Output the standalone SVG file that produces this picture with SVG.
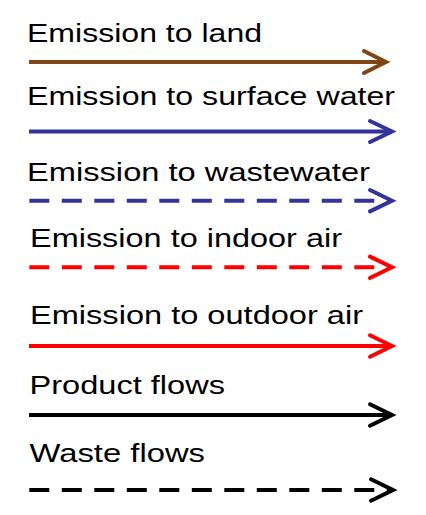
<svg xmlns="http://www.w3.org/2000/svg" width="426" height="515" viewBox="0 0 426 515">
<style>
text{font-family:"Liberation Sans",Arial,sans-serif;font-size:25px;fill:#000}
.ln{fill:none;stroke-width:4;stroke-linecap:butt}
.hd{fill:none;stroke-width:4;stroke-linecap:round;stroke-linejoin:miter}
.dash{stroke-dasharray:20 12.5}
</style>
<rect width="426" height="515" fill="#fff"/>
<g id="legend-land">
<text transform="matrix(1.3 0 0 1 27 42)" textLength="180.8" lengthAdjust="spacingAndGlyphs">Emission to land</text>
</g>
<g id="legend-surface">
<text transform="matrix(1.3 0 0 1 27 105)" textLength="283.1" lengthAdjust="spacingAndGlyphs">Emission to surface water</text>
</g>
<g id="legend-wastewater">
<text transform="matrix(1.3 0 0 1 27 180.5)" textLength="263.8" lengthAdjust="spacingAndGlyphs">Emission to wastewater</text>
</g>
<g id="legend-indoor">
<text transform="matrix(1.3 0 0 1 30 246.5)" textLength="240" lengthAdjust="spacingAndGlyphs">Emission to indoor air</text>
</g>
<g id="legend-outdoor">
<text transform="matrix(1.3 0 0 1 30 323.5)" textLength="256.2" lengthAdjust="spacingAndGlyphs">Emission to outdoor air</text>
</g>
<g id="legend-product">
<text transform="matrix(1.3 0 0 1 29.5 394.3)" textLength="150.4" lengthAdjust="spacingAndGlyphs">Product flows</text>
</g>
<g id="legend-waste">
<text transform="matrix(1.3 0 0 1 29.5 462.3)" textLength="135" lengthAdjust="spacingAndGlyphs">Waste flows</text>
</g>
<g id="connectors">
<g stroke="#7F4513">
<line class="ln" x1="29" y1="62" x2="384" y2="62"/>
<polyline class="hd" points="364,51 386,62 364,73"/>
</g>
<g stroke="#333399">
<line class="ln" x1="29" y1="131.5" x2="390" y2="131.5"/>
<polyline class="hd" points="370,121 392,131.5 370,142"/>
</g>
<g stroke="#333399">
<line class="ln dash" x1="29.3" y1="200.7" x2="390" y2="200.7"/>
<polyline class="hd" points="370,190 392,200.7 370,211.4"/>
</g>
<g stroke="#FF0000">
<line class="ln dash" x1="29.3" y1="267.3" x2="390" y2="267.3"/>
<polyline class="hd" points="370,256.6 392,267.3 370,278"/>
</g>
<g stroke="#FF0000">
<line class="ln" x1="29" y1="346" x2="390" y2="346"/>
<polyline class="hd" points="370,335.3 392,346 370,356.7"/>
</g>
<g stroke="#000000">
<line class="ln" x1="29" y1="415" x2="390" y2="415"/>
<polyline class="hd" points="370,404.3 392,415 370,425.7"/>
</g>
<g stroke="#000000">
<line class="ln dash" x1="29.3" y1="490" x2="391" y2="490"/>
<polyline class="hd" points="371,479.3 393,490 371,500.7"/>
</g>
</g>
</svg>
